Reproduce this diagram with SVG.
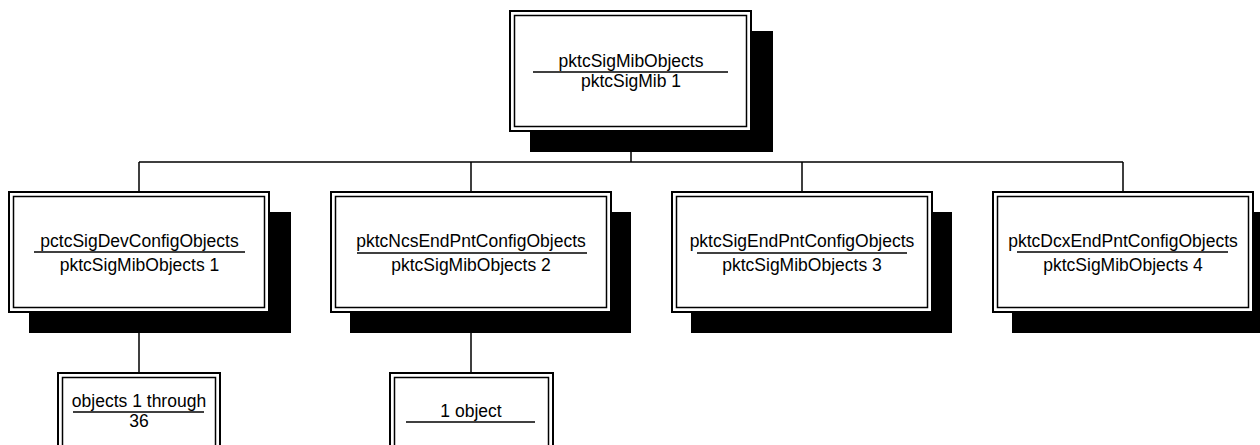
<svg xmlns="http://www.w3.org/2000/svg" width="1260" height="445" viewBox="0 0 1260 445">
  <style>
    .shadow { fill: #000; }
    .outer { fill: #fff; stroke: #000; stroke-width: 2; }
    .inner { fill: none; stroke: #000; stroke-width: 1.5; }
    .rule { stroke: #000; stroke-width: 1.5; }
    .wire { fill: none; stroke: #000; stroke-width: 1.5; }
    text { font-family: "Liberation Sans", Arial, sans-serif; font-size: 17.5px; fill: #000; text-anchor: middle; }
  </style>
  <rect width="1260" height="445" fill="#fff"/>

  <!-- tree connectors -->
  <g id="connectors">
    <path class="wire" d="M631,132 V162 M139,162 H1123 M139,162 V191 M471,162 V191 M802,162 V191 M1123,162 V191"/>
    <path class="wire" d="M139,313 V372 M471,313 V372"/>
  </g>

  <!-- root -->
  <g id="pktcSigMibObjects">
    <rect class="shadow" x="530" y="31" width="243" height="121"/>
    <rect class="outer" x="510" y="11" width="241" height="120"/>
    <rect class="inner" x="514.5" y="15.5" width="232" height="111"/>
    <text x="631" y="67">pktcSigMibObjects</text>
    <line class="rule" x1="533" y1="72" x2="728" y2="72"/>
    <text x="631" y="87">pktcSigMib 1</text>
  </g>

  <!-- second level -->
  <g id="pctcSigDevConfigObjects">
    <rect class="shadow" x="29" y="212" width="262" height="121"/>
    <rect class="outer" x="9" y="192" width="260" height="120"/>
    <rect class="inner" x="13.5" y="196.5" width="251" height="111"/>
    <text x="139.5" y="247">pctcSigDevConfigObjects</text>
    <line class="rule" x1="34" y1="252" x2="245" y2="252"/>
    <text x="139.5" y="271">pktcSigMibObjects 1</text>
  </g>

  <g id="pktcNcsEndPntConfigObjects">
    <rect class="shadow" x="350" y="212" width="281" height="121"/>
    <rect class="outer" x="331" y="192" width="280" height="120"/>
    <rect class="inner" x="335.5" y="196.5" width="271" height="111"/>
    <text x="471" y="247">pktcNcsEndPntConfigObjects</text>
    <line class="rule" x1="357" y1="253" x2="587" y2="253"/>
    <text x="471" y="271">pktcSigMibObjects 2</text>
  </g>

  <g id="pktcSigEndPntConfigObjects">
    <rect class="shadow" x="691" y="212" width="261" height="121"/>
    <rect class="outer" x="672" y="192" width="260" height="120"/>
    <rect class="inner" x="676.5" y="196.5" width="251" height="111"/>
    <text x="802" y="247">pktcSigEndPntConfigObjects</text>
    <line class="rule" x1="697" y1="253" x2="907" y2="253"/>
    <text x="802" y="271">pktcSigMibObjects 3</text>
  </g>

  <g id="pktcDcxEndPntConfigObjects">
    <rect class="shadow" x="1012" y="212" width="262" height="121"/>
    <rect class="outer" x="993" y="192" width="260" height="120"/>
    <rect class="inner" x="997.5" y="196.5" width="251" height="111"/>
    <text x="1123" y="247">pktcDcxEndPntConfigObjects</text>
    <line class="rule" x1="1017" y1="252" x2="1228" y2="252"/>
    <text x="1123" y="271">pktcSigMibObjects 4</text>
  </g>

  <!-- leaf groups -->
  <g id="devConfigLeaves">
    <rect class="outer" x="58" y="373" width="162" height="90"/>
    <rect class="inner" x="62.5" y="377.5" width="153" height="90"/>
    <text x="139" y="407">objects 1 through</text>
    <line class="rule" x1="73" y1="412" x2="204" y2="412"/>
    <text x="139" y="427">36</text>
  </g>

  <g id="ncsEndPntLeaves">
    <rect class="outer" x="390" y="373" width="163" height="90"/>
    <rect class="inner" x="394.5" y="377.5" width="154" height="90"/>
    <text x="471" y="417">1 object</text>
    <line class="rule" x1="406" y1="422" x2="535" y2="422"/>
  </g>
</svg>
